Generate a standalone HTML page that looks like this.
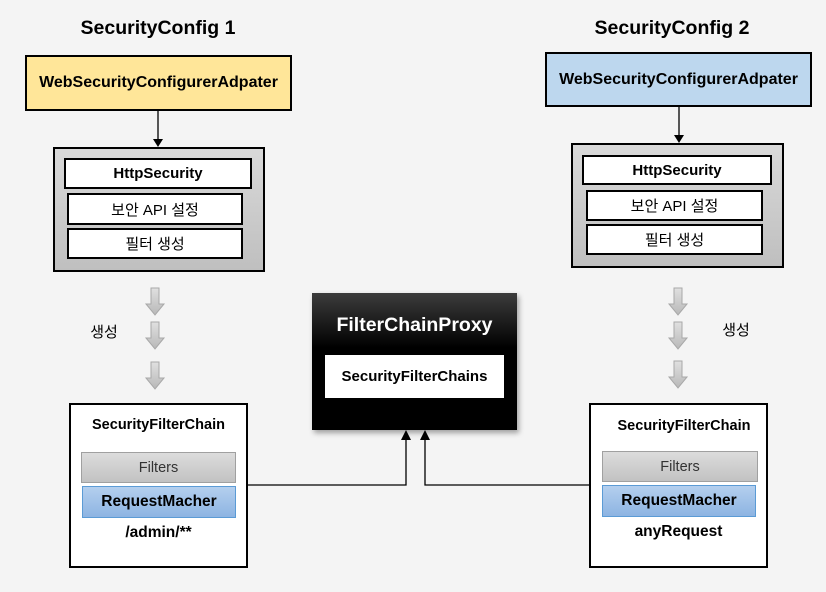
<!DOCTYPE html>
<html><head><meta charset="utf-8"><style>
body{margin:0;width:826px;height:592px;background:#f4f4f4;position:relative;overflow:hidden;font-family:"Liberation Sans","Noto Sans CJK KR",sans-serif;}
.a{position:absolute;box-sizing:border-box;display:flex;align-items:center;justify-content:center;text-align:center;color:#000;}
.t{font-weight:bold;font-size:19.5px;}
.b{font-weight:bold;font-size:15px;}
.n{font-size:15px;}
.w{background:#fff;border:2px solid #000;}
.g{background:linear-gradient(#d9d9d9,#bfbfbf);border:2px solid #000;}
.f{background:linear-gradient(#dcdcdc,#c2c2c2);border:1px solid #a0a0a0;color:#333;font-size:14.5px;}
.r{background:linear-gradient(#b4cfee,#8db4e2);border:1px solid #5b9bd5;font-weight:bold;font-size:15.5px;}
</style></head><body>
<div class="a t" style="left:58px;top:14px;width:200px;height:28px;">SecurityConfig 1</div>
<div class="a t" style="left:572px;top:14px;width:200px;height:28px;">SecurityConfig 2</div>

<div class="a b" style="left:25px;top:55px;width:267px;height:56px;background:#ffe699;border:2px solid #000;font-size:16px;">WebSecurityConfigurerAdpater</div>
<div class="a g" style="left:53px;top:147px;width:212px;height:125px;"></div>
<div class="a w b" style="left:64px;top:158px;width:188px;height:31px;">HttpSecurity</div>
<div class="a w n" style="left:67px;top:193px;width:176px;height:32px;">보안 API 설정</div>
<div class="a w n" style="left:67px;top:228px;width:176px;height:31px;">필터 생성</div>

<div class="a b" style="left:545px;top:52px;width:267px;height:55px;background:#bdd7ee;border:2px solid #000;font-size:16px;">WebSecurityConfigurerAdpater</div>
<div class="a g" style="left:571px;top:143px;width:213px;height:125px;"></div>
<div class="a w b" style="left:582px;top:155px;width:190px;height:30px;">HttpSecurity</div>
<div class="a w n" style="left:586px;top:190px;width:177px;height:31px;">보안 API 설정</div>
<div class="a w n" style="left:586px;top:224px;width:177px;height:31px;">필터 생성</div>

<div class="a n" style="left:86px;top:320px;width:36px;height:22px;">생성</div>
<div class="a n" style="left:718px;top:318px;width:36px;height:22px;">생성</div>

<div class="a" style="left:312px;top:293px;width:205px;height:137px;background:linear-gradient(#3c3c3c,#000 40%);box-shadow:2px 3px 5px rgba(0,0,0,.35);"></div>
<div class="a" style="left:312px;top:310px;width:205px;height:30px;color:#fff;font-weight:bold;font-size:19.5px;">FilterChainProxy</div>
<div class="a b" style="left:325px;top:355px;width:179px;height:43px;background:#fff;">SecurityFilterChains</div>

<div class="a w" style="left:69px;top:403px;width:179px;height:165px;"></div>
<div class="a b" style="left:70px;top:413px;width:177px;height:24px;font-size:14.5px;">SecurityFilterChain</div>
<div class="a f" style="left:81px;top:452px;width:155px;height:31px;">Filters</div>
<div class="a r" style="left:82px;top:486px;width:154px;height:32px;">RequestMacher</div>
<div class="a b" style="left:70px;top:521px;width:177px;height:24px;font-size:15.5px;">/admin/**</div>

<div class="a w" style="left:589px;top:403px;width:179px;height:165px;"></div>
<div class="a b" style="left:594px;top:414px;width:180px;height:24px;font-size:14.5px;">SecurityFilterChain</div>
<div class="a f" style="left:602px;top:451px;width:156px;height:31px;">Filters</div>
<div class="a r" style="left:602px;top:485px;width:154px;height:32px;">RequestMacher</div>
<div class="a b" style="left:590px;top:520px;width:177px;height:24px;font-size:15.5px;">anyRequest</div>

<svg width="826" height="592" style="position:absolute;left:0;top:0;pointer-events:none">
<defs>
<linearGradient id="bg" x1="0" y1="0" x2="0" y2="1"><stop offset="0" stop-color="#e0e0e0"/><stop offset="1" stop-color="#b8b8b8"/></linearGradient>
<g id="ba"><path d="M-4,0 H4 V16 H9 L0,27 L-9,16 H-4 Z" fill="url(#bg)" stroke="#a8a8a8" stroke-width="1"/></g>
</defs>
<line x1="158" y1="111" x2="158" y2="139" stroke="#000" stroke-width="1.3"/>
<path d="M153,139 L163,139 L158,147 Z" fill="#000"/>
<line x1="679" y1="107" x2="679" y2="135" stroke="#000" stroke-width="1.3"/>
<path d="M674,135 L684,135 L679,143 Z" fill="#000"/>
<use href="#ba" x="155" y="288"/><use href="#ba" x="155" y="322"/><use href="#ba" x="155" y="362"/>
<use href="#ba" x="678" y="288"/><use href="#ba" x="678" y="322"/><use href="#ba" x="678" y="361"/>
<polyline points="248,485 406,485 406,438" fill="none" stroke="#000" stroke-width="1.3"/>
<path d="M401,440 L411,440 L406,430 Z" fill="#000"/>
<polyline points="589,485 425,485 425,438" fill="none" stroke="#000" stroke-width="1.3"/>
<path d="M420,440 L430,440 L425,430 Z" fill="#000"/>
</svg>
</body></html>
